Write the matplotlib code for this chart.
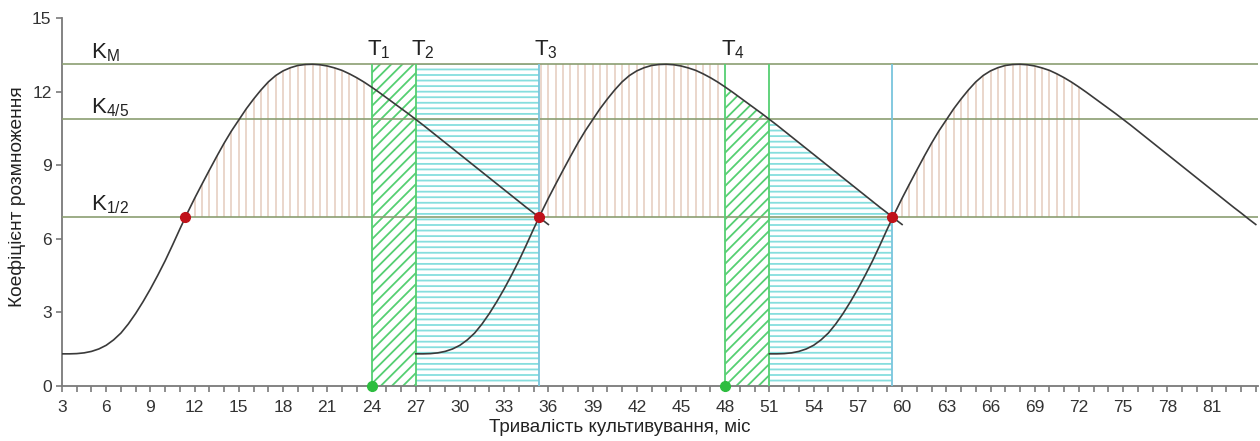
import numpy as np
import matplotlib
matplotlib.use('Agg')
import matplotlib.pyplot as plt
from matplotlib.ticker import MultipleLocator, FixedLocator

plt.rcParams['font.family'] = ['Liberation Sans', 'DejaVu Sans']
plt.rcParams['mathtext.default'] = 'regular'
plt.rcParams['hatch.linewidth'] = 1.3

# ---- data -------------------------------------------------------------
# one cultivation cycle: months since start -> multiplication coefficient
cycle_t = [0, 0.5, 1, 1.5, 2, 2.5, 3, 3.5, 4, 4.5, 5, 5.5, 6, 6.5, 7, 7.5,
           8, 8.5, 9, 9.5, 10, 10.5, 11, 11.5, 12, 12.5, 13, 13.5, 14, 14.5,
           15, 15.5, 16, 16.5, 17, 17.5, 18, 18.5, 19, 19.5, 20, 20.5, 21,
           21.5, 22, 22.5, 23, 23.5, 24, 24.5, 25, 25.5, 26, 26.5, 27, 27.5,
           28, 28.5, 29, 29.5, 30, 30.5, 31, 31.5, 32, 32.5, 33]
cycle_k = [1.30, 1.30, 1.31, 1.34, 1.40, 1.50, 1.65, 1.87, 2.15, 2.52,
           2.95, 3.43, 3.95, 4.51, 5.10, 5.74, 6.40, 7.04, 7.65, 8.23,
           8.80, 9.36, 9.90, 10.40, 10.85, 11.30, 11.70, 12.07, 12.40, 12.66,
           12.85, 12.98, 13.07, 13.11, 13.12, 13.10, 13.05, 12.97, 12.87, 12.73,
           12.57, 12.39, 12.19, 11.98, 11.76, 11.54, 11.32, 11.10, 10.87, 10.64,
           10.40, 10.16, 9.92, 9.68, 9.44, 9.20, 8.96, 8.72, 8.48, 8.24,
           8.00, 7.76, 7.52, 7.28, 7.05, 6.81, 6.58]
cycle_starts = [3, 27, 51]

k_levels = [13.12, 10.87, 6.9]
k_labels = ['K$_{М}$', 'K$_{4/5}$', 'K$_{1/2}$']

t_marks = [24, 27, 35.34, 48]
t_labels = ['T$_1$', 'T$_2$', 'T$_3$', 'T$_4$']

cross_x = [11.37, 35.34, 59.3]      # red points on K1/2
start_x = [24, 48]                  # green points on x axis

green_full = (24, 27)               # hatched to K_M
cyan_full = (27, 35.34)
green_curve = (48, 51)              # hatched below the curve of cycle 2
cyan_curve = (51, 59.3)

tan_curve_spans = [(11.5, 23.5, 0), (59.5, 72.0, 2)]   # bounded by curve
tan_box_span = (35.5, 47.5)                            # bounded by K_M

x_ticks = list(range(3, 82, 3))
y_ticks = [0, 3, 6, 9, 12, 15]

# ---- styles -----------------------------------------------------------
C_CURVE = '#3a3a3a'
C_K = '#8b9e72'
C_GREEN = '#55cf72'
C_CYAN = '#86dede'
C_BLUE = '#79c5dd'
C_TAN = '#e4cbbd'
C_RED = '#c0121a'
C_DOT_G = '#2dbd3f'
C_AX = '#7a7a7a'

fig = plt.figure(figsize=(12.6, 4.41), dpi=100)
ax = fig.add_axes([62 / 1260, 1 - 385.7 / 441, (1258 - 62) / 1260, (385.7 - 18.2) / 441])

t = np.array(cycle_t, dtype=float)
k = np.array(cycle_k, dtype=float)
KM, K45, K12 = k_levels
x_max = 84.15

# tan vertical hatching
for a, b, ci in tan_curve_spans:
    xs = np.arange(a, b + 0.01, 0.5)
    top = np.interp(xs, cycle_starts[ci] + t, k)
    ax.vlines(xs, K12, top, color=C_TAN, lw=1.1, zorder=1)
xs = np.arange(tan_box_span[0], tan_box_span[1] + 0.01, 0.5)
ax.vlines(xs, K12, KM, color=C_TAN, lw=1.1, zorder=1)

# hatched regions, cycle 1 (full height)
ax.fill_between(list(green_full), 0, KM, facecolor='none', edgecolor=C_GREEN,
                hatch='///', linewidth=0, zorder=2)
ax.fill_between(list(cyan_full), 0, KM, facecolor='none', edgecolor=C_CYAN,
                hatch='---', linewidth=0, zorder=2)

# hatched regions, cycle 2 (below the curve)
x2 = cycle_starts[1] + t
xx = np.linspace(green_curve[0], green_curve[1], 60)
ax.fill_between(xx, 0, np.interp(xx, x2, k), facecolor='none', edgecolor=C_GREEN,
                hatch='///', linewidth=0, zorder=2)
xx = np.linspace(cyan_curve[0], cyan_curve[1], 120)
ax.fill_between(xx, 0, np.interp(xx, x2, k), facecolor='none', edgecolor=C_CYAN,
                hatch='---', linewidth=0, zorder=2)

# K levels
ax.hlines(k_levels, 3, x_max, color=C_K, lw=1.2, zorder=3)

# vertical boundaries
ax.vlines([green_full[0], green_full[1], green_curve[0], green_curve[1]], 0, KM,
          color=C_GREEN, lw=1.3, zorder=3)
ax.vlines([cyan_full[1], cyan_curve[1]], 0, KM, color=C_BLUE, lw=1.3, zorder=3)

# curves
for s in cycle_starts:
    ax.plot(s + t, k, color=C_CURVE, lw=1.2, zorder=4)

# points
ax.plot(cross_x, [K12] * len(cross_x), 'o', color=C_RED, ms=7, zorder=6)
ax.plot(start_x, [0] * len(start_x), 'o', color=C_DOT_G, ms=7, zorder=6, clip_on=False)

# labels on chart
for lvl, lab in zip(k_levels, k_labels):
    ax.text(5.0, lvl + 0.25, lab, fontsize=16, ha='left', va='baseline', color='#222222')
for tm, lab in zip(t_marks, t_labels):
    ax.text(tm - 0.3, 13.5, lab, fontsize=16, ha='left', va='baseline', color='#222222')

# axes
ax.set_xlim(3, x_max)
ax.set_ylim(0, 15)
ax.xaxis.set_major_locator(FixedLocator(x_ticks))
ax.xaxis.set_minor_locator(MultipleLocator(1))
ax.set_yticks(y_ticks)
for side in ('top', 'right'):
    ax.spines[side].set_visible(False)
for side in ('left', 'bottom'):
    ax.spines[side].set_color(C_AX)
    ax.spines[side].set_linewidth(1.3)
ax.tick_params(which='both', direction='out', length=4, width=1.2, color=C_AX,
               labelsize=12.5, labelcolor='#333333')
ax.tick_params(axis='x', which='major', pad=6)

fig.text(620 / 1260, 1 - 427 / 441, 'Тривалість культивування, міс', ha='center',
         va='center', fontsize=13.5, color='#222222')
fig.text(17 / 1260, 1 - 197 / 441, 'Коефіцієнт розмноження', ha='center', va='center',
         rotation=90, fontsize=13.8, color='#222222')

fig.savefig('out.png', dpi=100)
